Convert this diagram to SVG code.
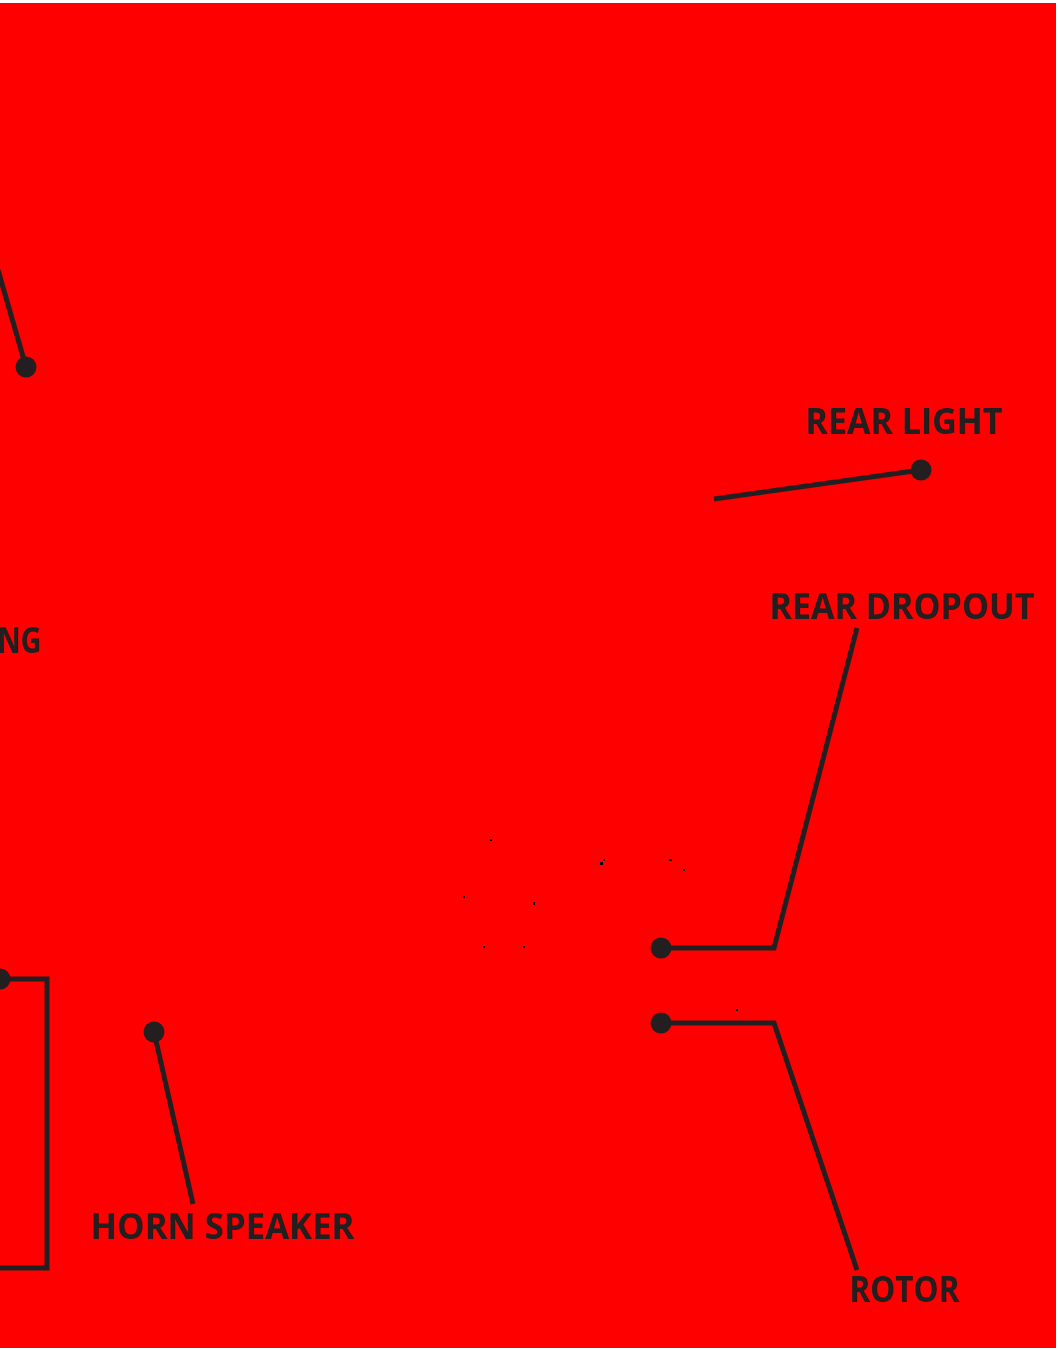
<svg xmlns="http://www.w3.org/2000/svg" width="1058" height="1350" viewBox="0 0 1058 1350">
<style>
.lbl{font-family:"Open Sans","Noto Sans","Liberation Sans",sans-serif;font-weight:700;font-size:35px;fill:#231f20}
.ln{fill:none;stroke:#231f20;stroke-width:5}
.dot{fill:#231f20}
.sp{fill:#000}
</style>
<rect x="0" y="0" width="1058" height="1350" fill="#fff"/>
<rect x="0" y="3" width="1056" height="1345" fill="#ff0000"/>
<g id="specks">
<rect class="sp" x="490" y="839" width="2" height="2"/>
<rect class="sp" x="603" y="859" width="2" height="2"/>
<rect class="sp" x="600" y="862" width="3" height="3"/>
<rect class="sp" x="669" y="859" width="3" height="2"/>
<rect class="sp" x="683" y="869" width="2" height="2"/>
<rect class="sp" x="463" y="896" width="2" height="2"/>
<rect class="sp" x="533" y="902" width="2" height="3"/>
<rect class="sp" x="483" y="946" width="2" height="2"/>
<rect class="sp" x="523" y="946" width="2" height="2"/>
<rect class="sp" x="736" y="1009" width="2" height="2"/>
</g>
<g id="connectors">
<polyline class="ln" points="-2,270 26,367"/>
<polyline class="ln" points="714,499 921,470"/>
<polyline class="ln" points="857,628 774,948 661,948"/>
<polyline class="ln" points="661,1023 774,1023 857,1270"/>
<polyline class="ln" points="0,979 47,979 47,1268 -2,1268"/>
<polyline class="ln" points="154,1032 193,1204"/>
</g>
<g id="node-left-top"><circle class="dot" cx="26" cy="367" r="10.5"/></g>
<g id="node-rear-light">
<text class="lbl" x="805" y="434" textLength="197" lengthAdjust="spacingAndGlyphs">REAR LIGHT</text>
<circle class="dot" cx="921" cy="470" r="10.5"/>
</g>
<g id="node-ng"><text class="lbl" x="41" y="653" text-anchor="end" textLength="44" lengthAdjust="spacingAndGlyphs">NG</text></g>
<g id="node-rear-dropout">
<text class="lbl" x="769" y="619" textLength="265" lengthAdjust="spacingAndGlyphs">REAR DROPOUT</text>
<circle class="dot" cx="661" cy="948" r="10.5"/>
</g>
<g id="node-rotor">
<circle class="dot" cx="661" cy="1023" r="10.5"/>
<text class="lbl" x="849" y="1302" textLength="110" lengthAdjust="spacingAndGlyphs">ROTOR</text>
</g>
<g id="node-left-bracket"><circle class="dot" cx="0" cy="979" r="10.5"/></g>
<g id="node-horn-speaker">
<circle class="dot" cx="154" cy="1032" r="10.5"/>
<text class="lbl" x="90" y="1239" textLength="264" lengthAdjust="spacingAndGlyphs">HORN SPEAKER</text>
</g>
</svg>
